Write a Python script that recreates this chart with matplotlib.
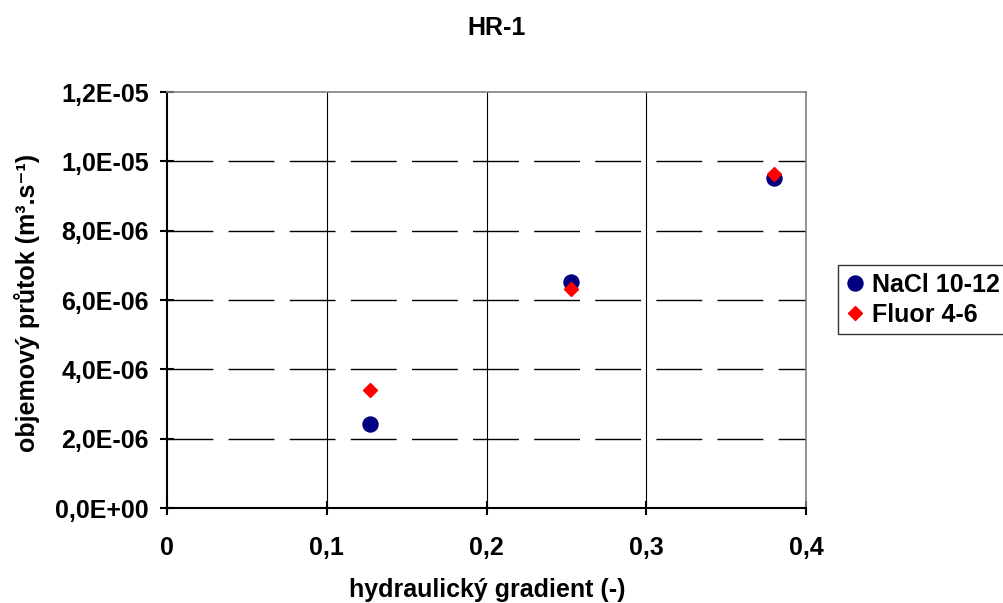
import matplotlib
matplotlib.use("Agg")
import matplotlib.pyplot as plt
from matplotlib.ticker import FuncFormatter, MultipleLocator

# Data
x_nacl = [0.127, 0.253, 0.380]
y_nacl = [2.42e-06, 6.52e-06, 9.52e-06]
x_fluor = [0.127, 0.253, 0.380]
y_fluor = [3.40e-06, 6.32e-06, 9.63e-06]
series_labels = ["NaCl 10-12", "Fluor 4-6"]
title = "HR-1"
xlabel = "hydraulický gradient (-)"
ylabel = "objemový průtok (m³.s⁻¹)"

plt.rcParams['font.family'] = ['Liberation Sans', 'DejaVu Sans']
plt.rcParams['font.weight'] = 'bold'

FS = 18

fig = plt.figure(figsize=(10.04, 6.03), dpi=100)
ax = fig.add_axes([167/1004, 1-508/603, (806-167)/1004, (508-92)/603])

ax.plot(x_nacl, y_nacl, linestyle='none', marker='o', markersize=10.8,
        color='#000080', label=series_labels[0], zorder=3)
ax.plot(x_fluor, y_fluor, linestyle='none', marker='D', markersize=7.6,
        color='#FF0000', label=series_labels[1], zorder=4)

ax.set_xlim(0, 0.4)
ax.set_ylim(0, 1.2e-05)
ax.xaxis.set_major_locator(MultipleLocator(0.1))
ax.yaxis.set_major_locator(MultipleLocator(2e-06))

def yfmt(v, pos):
    return f"{v:.1E}".replace('.', ',')

def xfmt(v, pos):
    if abs(v) < 1e-12:
        return "0"
    return f"{v:.1f}".replace('.', ',')

ax.yaxis.set_major_formatter(FuncFormatter(yfmt))
ax.xaxis.set_major_formatter(FuncFormatter(xfmt))

ax.grid(False)
for xv in [0.1, 0.2, 0.3]:
    ax.axvline(xv, color='black', linewidth=0.8, zorder=1)
for yv in [2e-06, 4e-06, 6e-06, 8e-06, 1e-05]:
    ax.axhline(yv, color='black', linewidth=1.0, dashes=(33, 11), zorder=1)

for s in ['top', 'right']:
    ax.spines[s].set_color('#808080')
    ax.spines[s].set_linewidth(1.2)
for s in ['left', 'bottom']:
    ax.spines[s].set_color('black')
    ax.spines[s].set_linewidth(1.5)

ax.tick_params(axis='both', direction='inout', length=10, width=1.5,
               labelsize=FS)
ax.tick_params(axis='x', pad=15)
ax.tick_params(axis='y', pad=8)
for lab in ax.get_xticklabels() + ax.get_yticklabels():
    lab.set_fontweight('bold')

fig.text(497/1004, 1-28/603, title, fontsize=FS, fontweight='bold',
         ha='center', va='center')
fig.text(487/1004, 1-590/603, xlabel, fontsize=FS, fontweight='bold',
         ha='center', va='center')
fig.text(27/1004, 1-303/603, ylabel, fontsize=FS, fontweight='bold',
         ha='center', va='center', rotation=90)

leg = fig.legend(loc='upper left', bbox_to_anchor=(838/1004, 1-265/603),
                 frameon=True, fancybox=False, edgecolor='black',
                 prop={'weight': 'bold', 'size': FS},
                 handletextpad=0.25, handlelength=0.8, borderpad=0.3,
                 borderaxespad=0, labelspacing=0.25)
leg.get_frame().set_linewidth(1.0)

fig.savefig("out.png", dpi=100)
